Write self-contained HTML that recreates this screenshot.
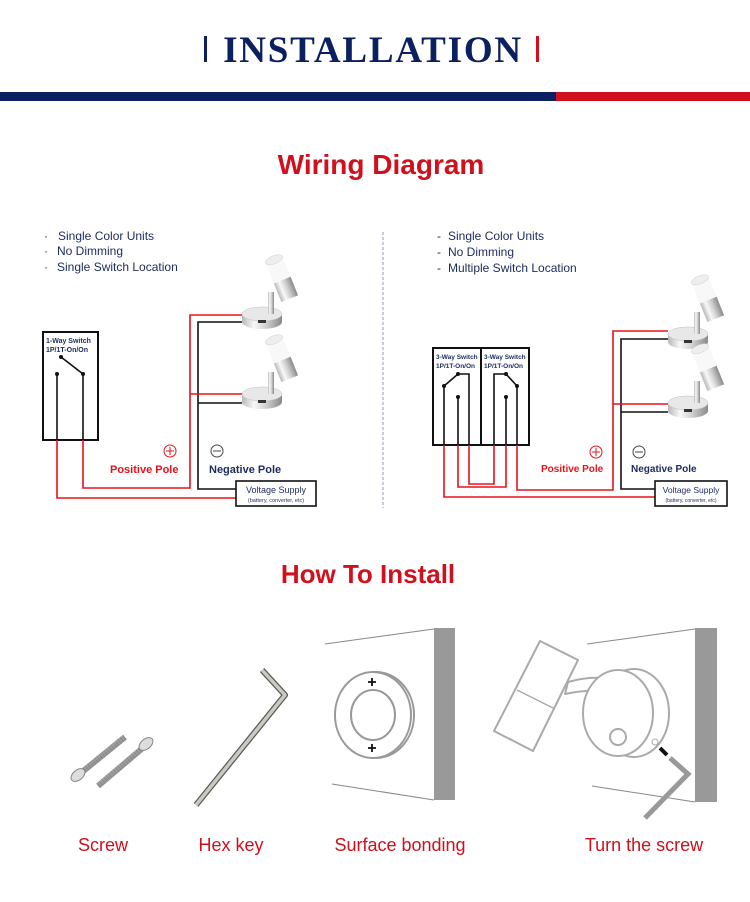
<!DOCTYPE html>
<html><head><meta charset="utf-8"><style>
html,body{margin:0;padding:0;background:#fff;width:750px;height:902px;overflow:hidden}
svg{display:block}
.sans{font-family:"Liberation Sans","DejaVu Sans",sans-serif}
</style></head><body>
<svg width="750" height="902" viewBox="0 0 750 902" xmlns="http://www.w3.org/2000/svg" class="sans">
<defs>
<linearGradient id="chrome" x1="0" x2="1" y1="0" y2="0">
<stop offset="0" stop-color="#b8b8b8"/><stop offset="0.3" stop-color="#f8f8f8"/><stop offset="0.6" stop-color="#d0d0d0"/><stop offset="1" stop-color="#8a8a8a"/>
</linearGradient>
<linearGradient id="metal" x1="0" x2="1" y1="0" y2="1">
<stop offset="0" stop-color="#e8e8e8"/><stop offset="0.5" stop-color="#9c9c9c"/><stop offset="1" stop-color="#5c5c5c"/>
</linearGradient>
<g id="lamp">
<path d="M-20 0 L-20 8 A20 7 0 0 0 20 8 L20 0 Z" fill="url(#chrome)"/>
<ellipse cx="0" cy="0" rx="20" ry="7" fill="#e8e8e8" stroke="#c0c0c0" stroke-width="0.5"/>
<rect x="-4" y="6" width="8" height="3" fill="#333"/>
<rect x="6" y="-22" width="6" height="22" fill="url(#chrome)"/>
<g transform="translate(21,-32) rotate(-22)">
<rect x="-9" y="-4" width="18" height="22" fill="url(#chrome)"/>
<rect x="-9" y="-24" width="18" height="22" fill="#f8f8f8"/>
<ellipse cx="0" cy="-24" rx="9" ry="4" fill="#eee" stroke="#d0d0d0" stroke-width="0.5"/>
</g>
</g>
</defs>

<rect x="204" y="36" width="3" height="26" fill="#0a2060"/>
<rect x="536" y="36" width="3" height="26" fill="#d0101c"/>
<text x="373" y="62" text-anchor="middle" font-family="Liberation Serif,serif" font-weight="bold" font-size="37" fill="#0a2060" letter-spacing="1.8">INSTALLATION</text>
<rect x="0" y="92" width="556" height="9" fill="#0a2060"/>
<rect x="556" y="92" width="194" height="9" fill="#d0101c"/>

<text x="381" y="174" text-anchor="middle" font-weight="bold" font-size="28" fill="#d0101c">Wiring Diagram</text>

<line x1="383" y1="232" x2="383" y2="508" stroke="#8898b8" stroke-width="1" stroke-dasharray="3,2"/>

<g font-size="12" fill="#1c2a5e">
<text x="44" y="240">·</text><text x="58" y="240">Single Color Units</text>
<text x="44" y="255">·</text><text x="57" y="255">No Dimming</text>
<text x="44" y="271">·</text><text x="57" y="271">Single Switch Location</text>
</g>
<use href="#lamp" x="262" y="314"/>
<use href="#lamp" x="262" y="394"/>
<rect x="43" y="332" width="55" height="108" fill="none" stroke="#111" stroke-width="2"/>
<text x="46" y="343" font-size="7" font-weight="bold" fill="#1c2a5e">1-Way Switch</text>
<text x="46" y="352" font-size="7" font-weight="bold" fill="#1c2a5e">1P/1T-On/On</text>
<g stroke="#111" stroke-width="1.6" fill="none">
<line x1="61" y1="357" x2="83" y2="374"/>
<line x1="57" y1="374" x2="57" y2="440"/>
<line x1="83" y1="374" x2="83" y2="440"/>
<path d="M242 322 H198 V489 H236"/>
<path d="M242 403 H198"/>
</g>
<circle cx="61" cy="357" r="2" fill="#111"/><circle cx="57" cy="374" r="2" fill="#111"/><circle cx="83" cy="374" r="2" fill="#111"/>
<g stroke="#e8121c" stroke-width="1.6" fill="none">
<path d="M57 440 V498 H236"/>
<path d="M83 440 V488 H190 V315 H242"/>
<path d="M190 394 H242"/>
</g>
<rect x="236" y="481" width="80" height="25" fill="#fff" stroke="#111" stroke-width="1.6"/>
<text x="276" y="493" text-anchor="middle" font-size="9" fill="#1c2a5e">Voltage Supply</text>
<text x="276" y="502" text-anchor="middle" font-size="5.5" fill="#1c2a5e">(battery, converter, etc)</text>
<circle cx="170" cy="451" r="6" fill="none" stroke="#e8121c" stroke-width="1"/>
<path d="M166 451 H174 M170 447 V455" stroke="#e8121c" stroke-width="1"/>
<circle cx="217" cy="451" r="6" fill="none" stroke="#444" stroke-width="1"/>
<path d="M213 451 H221" stroke="#444" stroke-width="1"/>
<text x="110" y="473" font-size="11" font-weight="bold" fill="#e8121c">Positive Pole</text>
<text x="209" y="473" font-size="11" font-weight="bold" fill="#1c2a5e">Negative Pole</text>

<g font-size="12" fill="#1c2a5e">
<text x="437" y="240">-</text><text x="448" y="240">Single Color Units</text>
<text x="437" y="256">-</text><text x="448" y="256">No Dimming</text>
<text x="437" y="272">-</text><text x="448" y="272">Multiple Switch Location</text>
</g>
<use href="#lamp" x="688" y="334"/>
<use href="#lamp" x="688" y="403"/>
<rect x="433" y="348" width="48" height="97" fill="none" stroke="#111" stroke-width="2"/>
<rect x="481" y="348" width="48" height="97" fill="none" stroke="#111" stroke-width="2"/>
<g font-size="6.5" font-weight="bold" fill="#1c2a5e">
<text x="436" y="359">3-Way Switch</text><text x="436" y="368">1P/1T-On/On</text>
<text x="484" y="359">3-Way Switch</text><text x="484" y="368">1P/1T-On/On</text>
</g>
<g stroke="#111" stroke-width="1.6" fill="none">
<path d="M444 445 V386 L458 374 H469 V445"/>
<line x1="458" y1="397" x2="458" y2="445"/>
<path d="M517 445 V386 L506 374 H494 V445"/>
<line x1="506" y1="397" x2="506" y2="445"/>
<path d="M668 339 H621 V489 H655"/>
<path d="M668 412 H621"/>
</g>
<g fill="#111"><circle cx="444" cy="386" r="2"/><circle cx="458" cy="374" r="2"/><circle cx="458" cy="397" r="2"/><circle cx="517" cy="386" r="2"/><circle cx="506" cy="374" r="2"/><circle cx="506" cy="397" r="2"/></g>
<g stroke="#e8121c" stroke-width="1.6" fill="none">
<path d="M444 445 V497 H655"/>
<path d="M458 445 V487 H506 V445"/>
<path d="M469 445 V484 H494 V445"/>
<path d="M517 445 V490 H613 V331 H668"/>
<path d="M613 404 H668"/>
</g>
<rect x="655" y="481" width="72" height="25" fill="#fff" stroke="#111" stroke-width="1.6"/>
<text x="691" y="493" text-anchor="middle" font-size="8.5" fill="#1c2a5e">Voltage Supply</text>
<text x="691" y="502" text-anchor="middle" font-size="5" fill="#1c2a5e">(battery, converter, etc)</text>
<circle cx="596" cy="452" r="6" fill="none" stroke="#e8121c" stroke-width="1"/>
<path d="M592 452 H600 M596 448 V456" stroke="#e8121c" stroke-width="1"/>
<circle cx="639" cy="452" r="6" fill="none" stroke="#444" stroke-width="1"/>
<path d="M635 452 H643" stroke="#444" stroke-width="1"/>
<text x="541" y="472" font-size="10" font-weight="bold" fill="#e8121c">Positive Pole</text>
<text x="631" y="472" font-size="10" font-weight="bold" fill="#1c2a5e">Negative Pole</text>

<text x="368" y="583" text-anchor="middle" font-weight="bold" font-size="26" fill="#d0101c">How To Install</text>

<g>
<line x1="82" y1="772" x2="125" y2="737" stroke="url(#metal)" stroke-width="6"/>
<line x1="82" y1="772" x2="125" y2="737" stroke="#777" stroke-width="6" stroke-dasharray="1,2" opacity="0.5"/>
<ellipse cx="78" cy="775" rx="8" ry="5" transform="rotate(-40 78 775)" fill="#ddd" stroke="#888"/>
<line x1="145" y1="746" x2="98" y2="786" stroke="url(#metal)" stroke-width="6"/>
<line x1="145" y1="746" x2="98" y2="786" stroke="#777" stroke-width="6" stroke-dasharray="1,2" opacity="0.5"/>
<ellipse cx="146" cy="744" rx="8" ry="5" transform="rotate(-40 146 744)" fill="#ddd" stroke="#888"/>
</g>
<path d="M262 670 L285 695 L196 805" fill="none" stroke="#5a5a5a" stroke-width="6" stroke-linejoin="round"/>
<path d="M262 670 L285 695 L196 805" fill="none" stroke="#c8ccc0" stroke-width="3.5" stroke-linejoin="round"/>

<line x1="325" y1="644" x2="434" y2="629" stroke="#888" stroke-width="1"/>
<line x1="332" y1="784" x2="434" y2="800" stroke="#888" stroke-width="1"/>
<rect x="434" y="628" width="21" height="172" fill="#999"/>
<ellipse cx="376" cy="715" rx="38" ry="43" fill="none" stroke="#999" stroke-width="2"/>
<ellipse cx="373" cy="715" rx="38" ry="43" fill="#fff" stroke="#999" stroke-width="2"/>
<ellipse cx="373" cy="715" rx="22" ry="25" fill="none" stroke="#999" stroke-width="2"/>
<path d="M368 682 H376 M372 678 V686 M368 748 H376 M372 744 V752" stroke="#111" stroke-width="1.8"/>

<line x1="587" y1="644" x2="695" y2="629" stroke="#888" stroke-width="1"/>
<line x1="592" y1="786" x2="695" y2="802" stroke="#888" stroke-width="1"/>
<rect x="695" y="628" width="22" height="174" fill="#999"/>
<path d="M540 641 L578 660 L533 751 L494 731 Z" fill="#fff" stroke="#aaa" stroke-width="2" stroke-linejoin="round"/>
<line x1="517" y1="690" x2="553" y2="708" stroke="#aaa" stroke-width="1.5"/>
<path d="M568 682 Q596 674 618 681 Q622 688 616 693 Q592 688 565 694 Z" fill="#fff" stroke="#aaa" stroke-width="2" stroke-linejoin="round"/>
<ellipse cx="634" cy="713" rx="35" ry="44" fill="#fff" stroke="#aaa" stroke-width="2"/>
<ellipse cx="618" cy="713" rx="35" ry="43" fill="#fff" stroke="#aaa" stroke-width="2"/>
<circle cx="618" cy="737" r="8" fill="none" stroke="#aaa" stroke-width="2"/>
<circle cx="655" cy="742" r="3" fill="none" stroke="#aaa" stroke-width="1"/>
<line x1="660" y1="748" x2="667" y2="755" stroke="#111" stroke-width="4"/>
<path d="M670 758 L688 774 L645 818" fill="none" stroke="#999" stroke-width="5"/>

<g font-size="18" fill="#d0101c" text-anchor="middle">
<text x="103" y="851">Screw</text>
<text x="231" y="851">Hex key</text>
<text x="400" y="851">Surface bonding</text>
<text x="644" y="851">Turn the screw</text>
</g>
</svg>
</body></html>
